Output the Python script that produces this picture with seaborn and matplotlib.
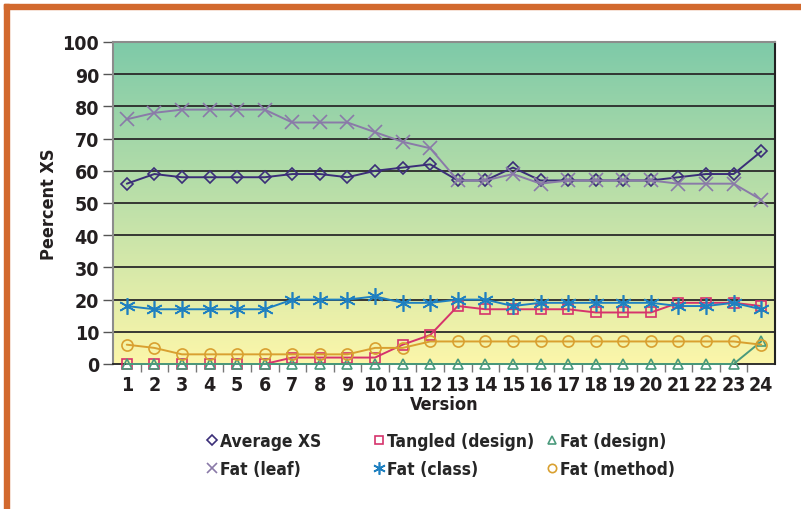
import numpy as np
import pandas as pd
import seaborn as sns
import matplotlib.pyplot as plt
from matplotlib.lines import Line2D
from matplotlib.patches import Rectangle

versions = list(range(1, 25))
average_xs = [56, 59, 58, 58, 58, 58, 59, 59, 58, 60, 61, 62, 57, 57, 61, 57, 57, 57, 57, 57, 58, 59, 59, 66]
tangled_design = [0, 0, 0, 0, 0, 0, 2, 2, 2, 2, 6, 9, 18, 17, 17, 17, 17, 16, 16, 16, 19, 19, 19, 18]
fat_design = [0] * 23 + [7]
fat_leaf = [76, 78, 79, 79, 79, 79, 75, 75, 75, 72, 69, 67, 57, 57, 59, 56, 57, 57, 57, 57, 56, 56, 56, 51]
fat_class = [18, 17, 17, 17, 17, 17, 20, 20, 20, 21, 19, 19, 20, 20, 18, 19, 19, 19, 19, 19, 18, 18, 19, 17]
fat_method = [6, 5, 3, 3, 3, 3, 3, 3, 3, 5, 5, 7, 7, 7, 7, 7, 7, 7, 7, 7, 7, 7, 7, 6]

series = [
    ("Average XS", average_xs, "#3b2e78", "D", 6.5),
    ("Fat (leaf)", fat_leaf, "#8a7aa8", "x", 10),
    ("Tangled (design)", tangled_design, "#d6336c", "s", 7),
    ("Fat (class)", fat_class, "#1f80c0", (6, 2, 0), 12),
    ("Fat (design)", fat_design, "#4a9a7c", "^", 7),
    ("Fat (method)", fat_method, "#d9a030", "o", 8),
]

sns.set_theme(style="white")
plt.rcParams["font.family"] = ["DejaVu Sans"]
plt.rcParams["font.stretch"] = "condensed"
plt.rcParams["font.weight"] = "bold"

fig = plt.figure(figsize=[8.01, 5.10], dpi=100)
ax = fig.add_axes([113 / 801, 1 - 365 / 510, 662 / 801, 322 / 510])

# gradient background, green at top to pale yellow at bottom
top = np.array([126, 202, 168]) / 255
bot = np.array([252, 246, 170]) / 255
t = np.linspace(0, 1, 256)[:, None]
grad = (top * (1 - t) + bot * t)[:, None, :]
ax.imshow(grad, extent=[0.5, 24.5, 0, 100], aspect="auto", zorder=0)

for y in range(10, 100, 10):
    ax.axhline(y, color="#2a2a2a", lw=1.3, zorder=1)

handles = []
for name, vals, col, mk, ms in series:
    df = pd.DataFrame({"Version": versions, "Percent": vals})
    sns.lineplot(data=df, x="Version", y="Percent", color=col, marker=mk,
                 markersize=ms, markerfacecolor="none", markeredgecolor=col,
                 markeredgewidth=1.2, lw=1.4, ax=ax, zorder=3, clip_on=False)
    handles.append(Line2D([], [], ls="none", marker=mk, color=col,
                          markerfacecolor="none", markersize=ms * 0.75,
                          markeredgewidth=1.2, label=name))

ax.set_xlim(0.5, 24.5)
ax.set_ylim(0, 100)
ax.set_yticks(range(0, 101, 10))
ax.set_xticks(versions)
ax.set_xticks(np.arange(1.5, 24.5, 1), minor=True)
ax.tick_params(axis="x", which="major", length=0, labelsize=14, pad=8)
ax.tick_params(axis="x", which="minor", length=6, width=1, color="#777777", direction="out", bottom=True)
ax.tick_params(axis="y", length=7, width=1, color="#555555", direction="out", left=True, labelsize=14, pad=3)
for lab in ax.get_xticklabels() + ax.get_yticklabels():
    lab.set_fontweight("bold")
    lab.set_color("#231f20")

for side in ["left", "top"]:
    ax.spines[side].set_color("#8c8c8c")
    ax.spines[side].set_linewidth(1.5)
ax.spines["right"].set_color("#222222")
ax.spines["right"].set_linewidth(1.5)
ax.spines["bottom"].set_color("#222222")
ax.spines["bottom"].set_linewidth(1.3)

ax.set_xlabel("Version", fontsize=13, fontweight="bold", color="#231f20", labelpad=1)
ax.set_ylabel("Peercent XS", fontsize=13, fontweight="bold", color="#231f20", labelpad=3)

# legend: three columns placed at fixed left edges
col_left = [197 / 801, 364 / 801, 537 / 801]
for i, x0 in enumerate(col_left):
    leg = fig.legend(handles=handles[2 * i:2 * i + 2], loc="upper left",
                     bbox_to_anchor=(x0, 1 - 424 / 510), frameon=False,
                     handlelength=0.7, handletextpad=0.15, labelspacing=0.6,
                     borderpad=0, prop={"weight": "bold", "size": 12.5, "stretch": "condensed"})

# orange frame on the left and top
fig.patches.append(Rectangle((4 / 801, 0), 5 / 801, 1 - 5 / 510, transform=fig.transFigure,
                             color="#d2692e", zorder=5))
fig.patches.append(Rectangle((4 / 801, 1 - 10 / 510), 1, 5 / 510, transform=fig.transFigure,
                             color="#d2692e", zorder=5))

fig.savefig("out.png", dpi=100)
